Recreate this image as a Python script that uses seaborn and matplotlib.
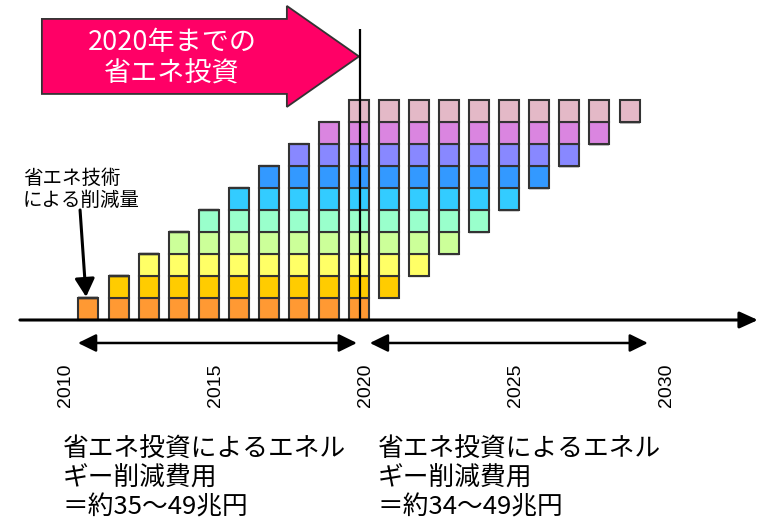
import numpy as np
import pandas as pd
import matplotlib
matplotlib.use("Agg")
import matplotlib.pyplot as plt
from matplotlib.colors import to_rgb
from matplotlib.patches import FancyArrow
import seaborn as sns

# columnas (años) y capas visibles en cada columna
years = [2011, 2012, 2013, 2014, 2015, 2016, 2017, 2018, 2019, 2020,
         2021, 2022, 2023, 2024, 2025, 2026, 2027, 2028, 2029]
first_layer = [1, 1, 1, 1, 1, 1, 1, 1, 1, 1, 2, 3, 4, 5, 6, 7, 8, 9, 10]
last_layer = [1, 2, 3, 4, 5, 6, 7, 8, 9, 10, 10, 10, 10, 10, 10, 10, 10, 10, 10]

# una capa por año de inversión
layer_names = ["2011", "2012", "2013", "2014", "2015",
               "2016", "2017", "2018", "2019", "2020"]
layer_colors = ["#FF9933", "#FFCC00", "#FFFF66", "#CCFF99", "#99FFCC",
                "#33CCFF", "#3399FF", "#8888FF", "#DA85E0", "#E4B9C7"]

tick_years = [2010, 2015, 2020, 2025, 2030]
split_year = 2020

arrow_text = "2020年までの\n省エネ投資"
note_text = "省エネ技術\nによる削減量"
cost_before = "省エネ投資によるエネル\nギー削減費用\n＝約35～49兆円"
cost_after = "省エネ投資によるエネル\nギー削減費用\n＝約34～49兆円"

GAP = "gap"
GAP_COLOR = "#fefefe"


def armarDatos():
    filas = []
    for year, first, last in zip(years, first_layer, last_layer):
        if first > 1:
            filas.append((year, GAP, first - 1))
        for k in range(first, last + 1):
            filas.append((year, layer_names[k - 1], 1))
    return pd.DataFrame(filas, columns=["Year", "Layer", "Count"])


def main():
    sns.set_theme(style="white")
    plt.rcParams["font.family"] = ["Noto Sans CJK JP", "DejaVu Sans"]

    df = armarDatos()
    palette = dict(zip(layer_names, layer_colors))
    palette[GAP] = GAP_COLOR
    hue_order = layer_names[::-1] + [GAP]

    fig = plt.figure(figsize=(7.65, 5.23), dpi=100)
    ax = fig.add_axes([0, 0, 1, 1])

    sns.histplot(data=df, x="Year", hue="Layer", weights="Count",
                 multiple="stack", discrete=True, shrink=0.665,
                 hue_order=hue_order, palette=palette, alpha=1,
                 edgecolor="#333333", linewidth=1.5, legend=False, ax=ax)

    # los huecos (capas ya vencidas) no se dibujan
    for p in ax.patches:
        if np.allclose(p.get_facecolor()[:3], to_rgb(GAP_COLOR)):
            p.set_visible(False)

    ax.set_xlim(2008.057, 2033.506)
    ax.set_ylim(-9.227, 14.545)
    ax.set_xlabel("")
    ax.set_ylabel("")
    ax.set_yticks([])
    for s in ax.spines.values():
        s.set_visible(False)
    ax.spines["bottom"].set_position(("data", 0))
    ax.set_xticks([y + 0.22 for y in tick_years])
    ax.set_xticklabels([str(y) for y in tick_years], rotation=90,
                       fontsize=14, family="Liberation Sans", color="black")
    ax.tick_params(axis="x", length=0, pad=31)

    # eje horizontal con flecha
    ax.annotate("", xy=(2033.27, 0), xytext=(2008.72, 0),
                arrowprops=dict(arrowstyle="-|>,head_length=0.55,head_width=0.25",
                                mutation_scale=20, lw=2.2, color="black",
                                shrinkA=0, shrinkB=0))
    # flechas dobles de los periodos
    for x0, x1 in [(2010.65, 2019.93), (2020.36, 2029.61)]:
        ax.annotate("", xy=(x1, -1.045), xytext=(x0, -1.045),
                    arrowprops=dict(arrowstyle="<|-|>,head_length=0.55,head_width=0.27",
                                    mutation_scale=20, lw=1.8, color="black",
                                    shrinkA=0, shrinkB=0))

    # flecha rosa
    flecha = FancyArrow(2009.45, 11.98, split_year - 2009.45, 0, width=3.41,
                        head_width=4.59, head_length=2.4,
                        length_includes_head=True, facecolor="#FF0066",
                        edgecolor="#333333", lw=1.3, zorder=3)
    ax.add_patch(flecha)
    ax.text(2013.78, 11.89, arrow_text, color="white", fontsize=19.5,
            ha="center", va="center", linespacing=1.25, zorder=4)

    ax.vlines(split_year + 0.03, 0, 13.23, color="black", lw=1.6, zorder=5)

    ax.text(2008.82, 5.95, note_text, fontsize=14, ha="left", va="center",
            linespacing=1.08, color="black")
    ax.annotate("", xy=(2010.92, 1.05), xytext=(2010.72, 5.0),
                arrowprops=dict(arrowstyle="-|>,head_length=0.55,head_width=0.3",
                                mutation_scale=20, lw=2.2, color="black",
                                shrinkA=0, shrinkB=0))

    ax.text(2010.15, -7.22, cost_before, fontsize=18.5, ha="left", va="center",
            linespacing=1.13, color="black")
    ax.text(2020.63, -7.22, cost_after, fontsize=18.5, ha="left", va="center",
            linespacing=1.13, color="black")

    fig.savefig("out.png", dpi=100)


if __name__ == "__main__":
    main()
